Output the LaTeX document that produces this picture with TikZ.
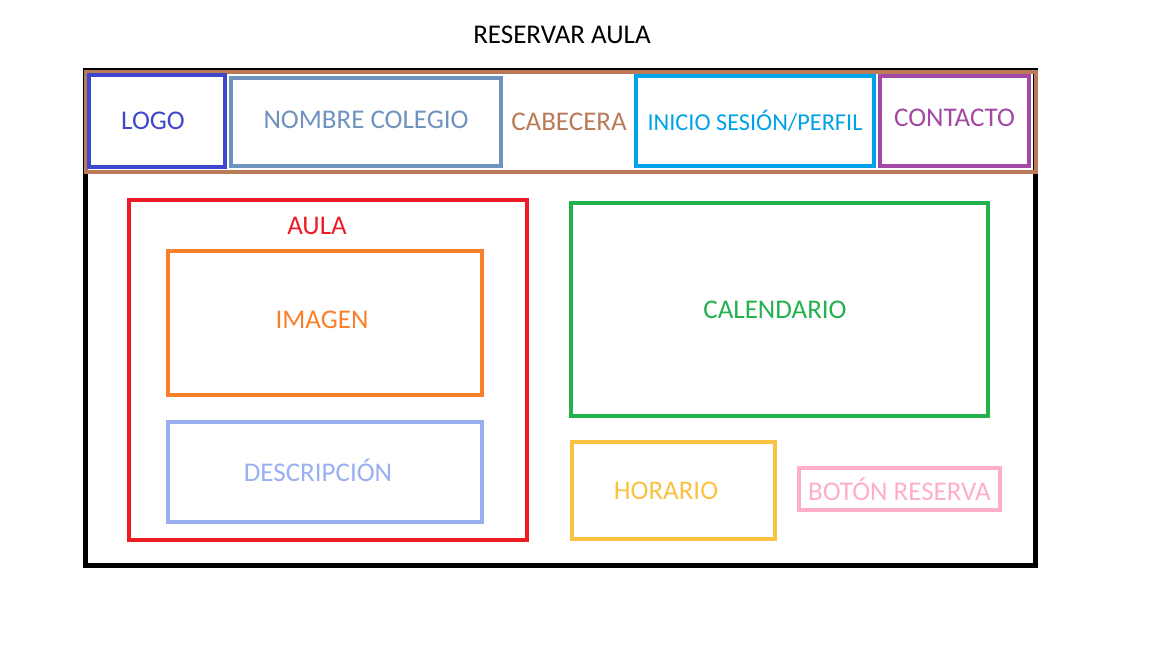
\documentclass[tikz,border=0pt]{standalone}
\usepackage{fontspec}
\setmainfont{Carlito}
\definecolor{logoblue}{HTML}{3F48CC}
\definecolor{schoolblue}{HTML}{7092BE}
\definecolor{headbrown}{HTML}{B97A57}
\definecolor{logincyan}{HTML}{00A2E8}
\definecolor{contactpurple}{HTML}{A349A4}
\definecolor{roomred}{HTML}{ED1C24}
\definecolor{imageorange}{HTML}{FA7F2A}
\definecolor{descblue}{HTML}{9AAEF2}
\definecolor{calgreen}{HTML}{22B14C}
\definecolor{hourgold}{HTML}{FAC240}
\definecolor{bookpink}{HTML}{FFAEC9}
\begin{document}
\begin{tikzpicture}[
        x=1pt, y=-1pt,
        every node/.style={font=\fontsize{27}{32}\selectfont},
        frame/.style={rectangle, draw=#1, text=#1, line width=4.5pt, inner sep=0pt},
        tag/.style={text=#1, inner sep=0pt}
    ]

\useasboundingbox (0,0) rectangle (1152,648);

\node[inner sep=0pt] (title) at (562,35) {RESERVAR AULA};

% page and header
\draw[line width=5pt] (85.5,70) rectangle (1035.5,565.5);
\node[frame=headbrown, minimum width=950pt, minimum height=100pt] (head) at (561,122) {};
\node[tag=headbrown] (headtxt) at (569,122) {CABECERA};

\node[frame=logoblue, minimum width=136pt, minimum height=92pt] (logo) at (157,121) {};
\node[tag=logoblue] at ([xshift=-4pt]logo.center) {LOGO};
\node[frame=schoolblue, minimum width=270pt, minimum height=88pt] (school) at (366,122) {};
\node[tag=schoolblue] at ([yshift=2pt]school.center) {NOMBRE COLEGIO};
\node[frame=logincyan, minimum width=238pt, minimum height=90pt, font=\fontsize{24.3}{29}\selectfont] (login) at (755,121) {INICIO SESIÓN/PERFIL};
\node[frame=contactpurple, minimum width=149pt, minimum height=90pt] (contact) at (954.5,121) {};
\node[tag=contactpurple] at ([yshift=3pt]contact.center) {CONTACTO};

% room column
\node[frame=roomred, minimum width=398pt, minimum height=340pt] (room) at (328,370) {};
\node[tag=roomred] (roomtxt) at (317,226) {AULA};
\node[frame=imageorange, minimum width=314pt, minimum height=144pt] (image) at (325,323) {};
\node[tag=imageorange] at ([shift={(-3,-3)}]image.center) {IMAGEN};
\node[frame=descblue, minimum width=314pt, minimum height=100pt] (desc) at (325,472) {};
\node[tag=descblue] at ([shift={(-7,-2)}]desc.center) {DESCRIPCIÓN};

% booking column
\node[frame=calgreen, minimum width=417pt, minimum height=213pt] (calendar) at (779.5,309.5) {};
\node[tag=calgreen] at ([xshift=-4.5pt]calendar.center) {CALENDARIO};
\node[frame=hourgold, minimum width=203pt, minimum height=97pt] (hours) at (673.5,490.5) {};
\node[tag=hourgold] at ([xshift=-7.5pt]hours.center) {HORARIO};
\node[frame=bookpink, minimum width=201pt, minimum height=42pt] (book) at (899.5,489) {BOTÓN RESERVA};

\end{tikzpicture}
\end{document}
